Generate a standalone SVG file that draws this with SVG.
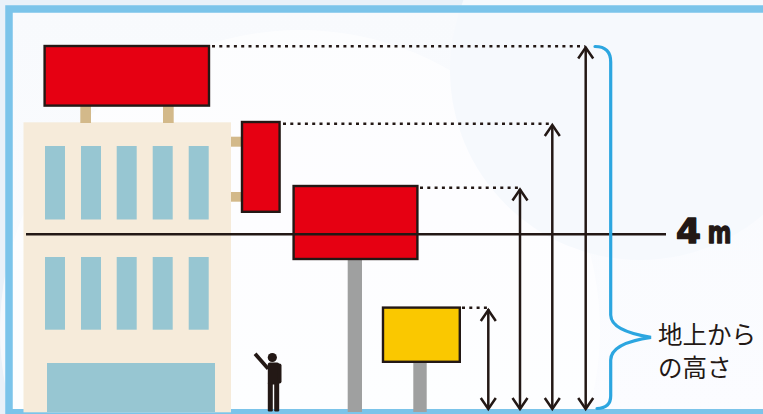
<svg xmlns="http://www.w3.org/2000/svg" width="763" height="414" viewBox="0 0 763 414">
  <defs>
    <style>
      .sign { fill: #e60012; stroke: #231815; stroke-width: 2.4; }
      .ysign { fill: #fac800; stroke: #231815; stroke-width: 2.4; }
      .post { fill: #d3b98a; }
      .pole { fill: #9fa0a0; }
      .wall { fill: #f6ebda; }
      .win { fill: #97c6d2; }
      .ink { fill: #231815; }
      .dot { fill: none; stroke: #231815; stroke-width: 2.4; stroke-dasharray: 3 4.3; }
      .arrow { fill: none; stroke: #231815; stroke-width: 2.5; }
      .head { fill: none; stroke: #231815; stroke-width: 2.5; stroke-linejoin: miter; }
      .brace { fill: none; stroke: #2ca6e0; stroke-width: 3.2; stroke-linecap: round; }
      .jp { font-family: "Noto Sans CJK JP", "Noto Sans", sans-serif; font-size: 24.5px; fill: #231815; }
      .big { font-family: "DejaVu Sans", "Liberation Sans", sans-serif; font-weight: bold; fill: #231815; stroke: #231815; stroke-width: 1.4; stroke-linejoin: round; }
    </style>
    <linearGradient id="bg" x1="0" y1="0" x2="0" y2="1">
      <stop offset="0" stop-color="#f8fafd"/>
      <stop offset="1" stop-color="#fbfcff"/>
    </linearGradient>
  </defs>

  <!-- backdrop and frame -->
  <rect x="0" y="0" width="763" height="414" fill="#e9f1f9"/>
  <rect x="9" y="9" width="754" height="405" fill="url(#bg)"/>
  <circle cx="300" cy="330" r="300" fill="#ffffff" opacity="0.6"/>
  <circle cx="640" cy="70" r="190" fill="#f6f9fd"/>
  <path d="M 763 9 L 9 9 L 9 412.7 L 763 412.7" fill="none" stroke="#7bc4ea" stroke-width="7.5"/>

  <!-- building -->
  <g id="building">
    <rect class="wall" x="23.5" y="122.3" width="207.5" height="290"/>
    <rect class="win" x="45" y="146" width="20" height="73.5"/>
    <rect class="win" x="81" y="146" width="20" height="73.5"/>
    <rect class="win" x="116.7" y="146" width="20" height="73.5"/>
    <rect class="win" x="152.7" y="146" width="20" height="73.5"/>
    <rect class="win" x="188.7" y="146" width="20" height="73.5"/>
    <rect class="win" x="45" y="257" width="20" height="72.7"/>
    <rect class="win" x="81" y="257" width="20" height="72.7"/>
    <rect class="win" x="116.7" y="257" width="20" height="72.7"/>
    <rect class="win" x="152.7" y="257" width="20" height="72.7"/>
    <rect class="win" x="188.7" y="257" width="20" height="72.7"/>
    <rect class="win" x="47" y="363" width="168" height="49"/>
  </g>

  <!-- roof-top sign -->
  <g id="sign-roof">
    <rect class="post" x="80.3" y="105" width="10.7" height="18"/>
    <rect class="post" x="163" y="105" width="10.7" height="18"/>
    <rect class="sign" x="44.6" y="46" width="164.4" height="59.6"/>
  </g>

  <!-- wall-mounted vertical sign -->
  <g id="sign-wall">
    <rect class="post" x="231" y="136.7" width="10" height="10"/>
    <rect class="post" x="231" y="192" width="10" height="9.7"/>
    <rect class="sign" x="242" y="122" width="37.6" height="89.8"/>
  </g>

  <!-- pole sign -->
  <g id="sign-pole">
    <rect class="pole" x="347.7" y="259" width="14.3" height="153"/>
    <rect class="sign" x="293.6" y="186" width="123.8" height="73"/>
  </g>

  <!-- ground sign -->
  <g id="sign-ground">
    <rect class="pole" x="413.3" y="362" width="13.4" height="50"/>
    <rect class="ysign" x="383" y="307.6" width="76.8" height="54.2"/>
  </g>

  <!-- person -->
  <g id="person" class="ink">
    <circle cx="272.3" cy="357.5" r="4.6"/>
    <rect x="267.8" y="362.6" width="11.4" height="22" rx="2"/>
    <rect x="277.5" y="363.5" width="4" height="20" rx="2"/>
    <path d="M 269.5 367.5 L 256.5 352.5 L 253.6 355 L 266.8 370 Z"/>
    <rect x="267.8" y="382" width="5" height="29.5" rx="1.2"/>
    <rect x="274.2" y="382" width="5" height="29.5" rx="1.2"/>
  </g>

  <!-- 4 m reference line -->
  <g id="line-4m">
    <line x1="26" y1="234.3" x2="666" y2="234.3" stroke="#231815" stroke-width="2.6"/>
    <text class="big" x="676" y="242.5" font-size="34" textLength="25" lengthAdjust="spacingAndGlyphs">4</text>
    <text class="big" x="707.5" y="242.5" font-size="31" textLength="24" lengthAdjust="spacingAndGlyphs">m</text>
  </g>

  <!-- height guides -->
  <g id="connectors">
    <line class="dot" x1="212" y1="46.3" x2="585" y2="46.3"/>
    <line class="dot" x1="283" y1="123.7" x2="552" y2="123.7"/>
    <line class="dot" x1="420" y1="187.7" x2="520" y2="187.7"/>
    <line class="dot" x1="462" y1="307.7" x2="488" y2="307.7"/>

    <line class="arrow" x1="488.3" y1="309" x2="488.3" y2="409"/>
    <line class="arrow" x1="520" y1="189" x2="520" y2="409"/>
    <line class="arrow" x1="552.3" y1="125" x2="552.3" y2="409"/>
    <line class="arrow" x1="585.7" y1="47.5" x2="585.7" y2="409"/>

    <path class="head" d="M 480.8 321 L 488.3 310 L 495.8 321"/>
    <path class="head" d="M 512.5 200.5 L 520 189.5 L 527.5 200.5"/>
    <path class="head" d="M 544.8 136 L 552.3 125 L 559.8 136"/>
    <path class="head" d="M 578.2 58.5 L 585.7 47.5 L 593.2 58.5"/>

    <path class="head" d="M 480.8 398 L 488.3 409 L 495.8 398"/>
    <path class="head" d="M 512.5 398 L 520 409 L 527.5 398"/>
    <path class="head" d="M 544.8 398 L 552.3 409 L 559.8 398"/>
    <path class="head" d="M 578.2 398 L 585.7 409 L 593.2 398"/>
  </g>

  <!-- brace with label -->
  <g id="height-label">
    <path class="brace" d="M 595 46.5 Q 610.7 46.5 610.7 62 L 610.7 315 Q 611 331 651 337.3 Q 611 343 610.7 360 L 610.7 396 Q 610.7 408 597 408.5"/>
    <text class="jp" x="658" y="343.5">地上から</text>
    <text class="jp" x="658" y="376.5">の高さ</text>
  </g>
</svg>
